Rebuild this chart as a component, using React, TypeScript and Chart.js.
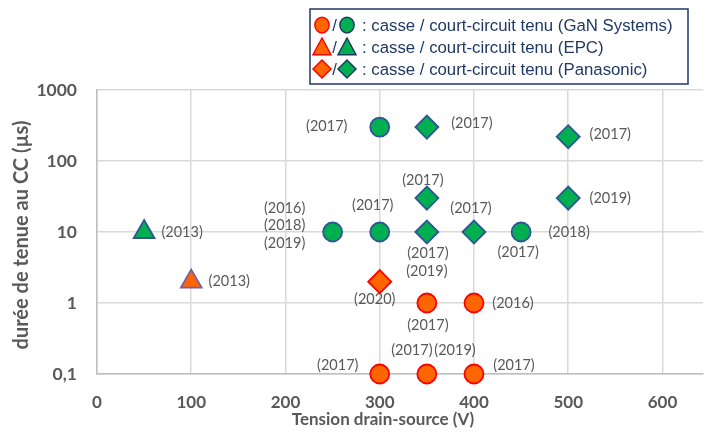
import React, { useEffect, useRef } from 'react';
import { Chart, registerables } from 'chart.js';

Chart.register(...registerables);

// ---------- data ----------
const X_TICKS = [0, 100, 200, 300, 400, 500, 600];
const X_MIN = 0;
const X_MAX = 643;
const Y_TICKS = [0.1, 1, 10, 100, 1000];
const Y_TICK_LABELS = ['0,1', '1', '10', '100', '1000'];

// GaN Systems
const ganHeldX = [300, 250, 300, 450];
const ganHeldY = [300, 10, 10, 10];
const ganBrokeX = [350, 400, 300, 350, 400];
const ganBrokeY = [1, 1, 0.1, 0.1, 0.1];
// EPC
const epcHeldX = [50];
const epcHeldY = [10];
const epcBrokeX = [100];
const epcBrokeY = [2];
// Panasonic
const panaHeldX = [350, 500, 350, 500, 350, 400];
const panaHeldY = [300, 220, 30, 30, 10, 10];
const panaBrokeX = [300];
const panaBrokeY = [2];

// year annotations anchored to points
const yearX = [300, 350, 500, 500, 450, 450, 400, 350, 350, 300, 250, 250, 250, 50, 100, 300, 350, 350, 400, 300, 350, 400, 400];
const yearY = [300, 300, 220, 30, 10, 10, 10, 10, 30, 10, 10, 10, 10, 10, 2, 2, 1, 1, 1, 0.1, 0.1, 0.1, 0.1];
const yearText = ['(2017)', '(2017)', '(2017)', '(2019)', '(2018)', '(2017)', '(2017)', '(2017)', '(2017)', '(2017)', '(2016)', '(2018)', '(2019)', '(2013)', '(2013)', '(2020)', '(2019)', '(2017)', '(2016)', '(2017)', '(2017)', '(2019)', '(2017)'];
// layout: pixel offsets of each annotation's centre from its point
const yearDx = [-53, 45, 42, 42, 48, -3, -3, 1, -4, -7, -48, -48, -48, 38, 38, -5, 0, 1, 39, -42, -15, -19, 40];
const yearDy = [-1, -4, -2, 0, 0, 20, -24, 21, -18, -27, -24, -7, 11, 0, 0, 18, -32, 22, 0, -9, -24, -24, -9];

const legendTexts = [
  ': casse / court-circuit tenu (GaN Systems)',
  ': casse / court-circuit tenu (EPC)',
  ': casse / court-circuit tenu (Panasonic)',
];
const xTitle = 'Tension drain-source (V)';
const yTitle = 'durée de tenue au CC (µs)';

// ---------- styles ----------
const GREEN = '#00B050';
const GREEN_BORDER = '#2F5597';
const ORANGE = '#FF6600';
const RED = '#FF0000';
const TRI_ORANGE_BORDER = '#7A5CA8';
const GRID = '#D9D9D9';
const TEXT_GRAY = '#595959';
const NAVY = '#1F3864';

const pts = (xs: number[], ys: number[]) => xs.map((x, i) => ({ x, y: ys[i] }));

function drawShape(ctx: CanvasRenderingContext2D, shape: string, x: number, y: number, r: number, fill: string, stroke: string) {
  ctx.save();
  ctx.beginPath();
  if (shape === 'circle') {
    ctx.ellipse(x, y, r * 0.95, r * 1.05, 0, 0, Math.PI * 2);
  } else if (shape === 'triangle') {
    ctx.moveTo(x, y - r);
    ctx.lineTo(x + r, y + r * 0.85);
    ctx.lineTo(x - r, y + r * 0.85);
    ctx.closePath();
  } else {
    ctx.moveTo(x - r, y);
    ctx.lineTo(x, y - r);
    ctx.lineTo(x + r, y);
    ctx.lineTo(x, y + r);
    ctx.closePath();
  }
  ctx.fillStyle = fill;
  ctx.fill();
  ctx.lineWidth = 1.5;
  ctx.strokeStyle = stroke;
  ctx.stroke();
  ctx.restore();
}

const decorPlugin = {
  id: 'decor',
  afterDatasetsDraw(chart: any) {
    const ctx: CanvasRenderingContext2D = chart.ctx;
    const xs = chart.scales.x;
    const ys = chart.scales.y;
    // year annotations
    ctx.save();
    ctx.font = '14.5px Lato';
    ctx.fillStyle = TEXT_GRAY;
    ctx.textAlign = 'center';
    ctx.textBaseline = 'middle';
    yearText.forEach((t, i) => {
      const px = xs.getPixelForValue(yearX[i]) + yearDx[i];
      const py = ys.getPixelForValue(yearY[i]) + yearDy[i];
      ctx.fillText(t, px, py);
    });
    ctx.restore();

    // axis titles
    ctx.save();
    ctx.fillStyle = TEXT_GRAY;
    ctx.textAlign = 'center';
    ctx.textBaseline = 'middle';
    ctx.font = 'bold 17px Lato';
    ctx.fillText(xTitle, 383, 420);
    ctx.translate(22, 235);
    ctx.rotate(-Math.PI / 2);
    ctx.font = 'bold 20px Lato';
    ctx.fillText(yTitle, 0, 0);
    ctx.restore();

    // legend
    ctx.save();
    ctx.fillStyle = '#FFFFFF';
    ctx.fillRect(310, 9, 378, 75);
    ctx.lineWidth = 1.5;
    ctx.strokeStyle = NAVY;
    ctx.strokeRect(310, 9, 378, 75);
    const rows = [25, 47, 69];
    const shapes = ['circle', 'triangle', 'diamond'];
    rows.forEach((ry, i) => {
      const r = shapes[i] === 'circle' ? 7.5 : 9;
      drawShape(ctx, shapes[i], 322, ry, r, ORANGE, RED);
      drawShape(ctx, shapes[i], 347, ry, r, GREEN, NAVY);
      ctx.font = '16.8px "Liberation Sans"';
      ctx.fillStyle = NAVY;
      ctx.textAlign = 'center';
      ctx.textBaseline = 'middle';
      ctx.fillText('/', 334.5, ry + 1);
      ctx.textAlign = 'left';
      ctx.fillText(legendTexts[i], 362, ry + 1);
    });
    ctx.restore();
  },
};

export default function App() {
  const ref = useRef<HTMLCanvasElement | null>(null);
  useEffect(() => {
    if (!ref.current) return;
    const chart = new Chart(ref.current, {
      type: 'scatter',
      data: {
        datasets: [
          { label: 'GaN tenu', data: pts(ganHeldX, ganHeldY), pointStyle: 'circle', pointRadius: 9.5, backgroundColor: GREEN, borderColor: GREEN_BORDER, borderWidth: 1.8, clip: false } as any,
          { label: 'GaN casse', data: pts(ganBrokeX, ganBrokeY), pointStyle: 'circle', pointRadius: 9.5, backgroundColor: ORANGE, borderColor: RED, borderWidth: 1.8, clip: false } as any,
          { label: 'EPC tenu', data: pts(epcHeldX, epcHeldY), pointStyle: 'triangle', pointRadius: 12, backgroundColor: GREEN, borderColor: GREEN_BORDER, borderWidth: 1.8, clip: false } as any,
          { label: 'EPC casse', data: pts(epcBrokeX, epcBrokeY), pointStyle: 'triangle', pointRadius: 12, backgroundColor: ORANGE, borderColor: TRI_ORANGE_BORDER, borderWidth: 1.8, clip: false } as any,
          { label: 'Panasonic tenu', data: pts(panaHeldX, panaHeldY), pointStyle: 'rectRot', pointRadius: 11.5, backgroundColor: GREEN, borderColor: GREEN_BORDER, borderWidth: 1.8, clip: false } as any,
          { label: 'Panasonic casse', data: pts(panaBrokeX, panaBrokeY), pointStyle: 'rectRot', pointRadius: 11.5, backgroundColor: ORANGE, borderColor: RED, borderWidth: 1.8, clip: false } as any,
        ],
      },
      options: {
        responsive: false,
        animation: false,
        devicePixelRatio: 1,
        events: [],
        layout: { autoPadding: false, padding: { top: 90, right: 4, left: 0, bottom: 0 } },
        plugins: { legend: { display: false }, tooltip: { enabled: false }, title: { display: false } },
        scales: {
          x: {
            type: 'linear',
            min: X_MIN,
            max: X_MAX,
            afterBuildTicks: (s: any) => { s.ticks = X_TICKS.map((v) => ({ value: v })); },
            afterFit: (s: any) => { s.height = 67; s.paddingLeft = 0; s.paddingRight = 0; },
            grid: { color: GRID, lineWidth: 1.5, drawTicks: false },
            border: { color: '#BFBFBF', width: 1.5 },
            ticks: { color: TEXT_GRAY, font: { family: 'Lato', weight: 'bold', size: 17 }, padding: 18, maxRotation: 0 },
          },
          y: {
            type: 'logarithmic',
            min: 0.1,
            max: 1000,
            afterBuildTicks: (s: any) => { s.ticks = Y_TICKS.map((v) => ({ value: v })); },
            afterFit: (s: any) => { s.width = 97; s.paddingTop = 0; s.paddingBottom = 0; },
            grid: { color: GRID, lineWidth: 1.5, drawTicks: false },
            border: { color: '#BFBFBF', width: 1.5 },
            ticks: {
              color: TEXT_GRAY,
              font: { family: 'Lato', weight: 'bold', size: 17.5 },
              padding: 20,
              callback: (v: any) => {
                const i = Y_TICKS.indexOf(Number(v));
                return i >= 0 ? Y_TICK_LABELS[i] : '';
              },
            },
          },
        },
      } as any,
      plugins: [decorPlugin],
    });
    return () => chart.destroy();
  }, []);
  return (
    <div style={{ position: 'absolute', left: 0, top: 0, width: 707, height: 441, background: '#fff' }}>
      <canvas ref={ref} width={707} height={441} style={{ display: 'block', width: 707, height: 441 }} />
    </div>
  );
}
